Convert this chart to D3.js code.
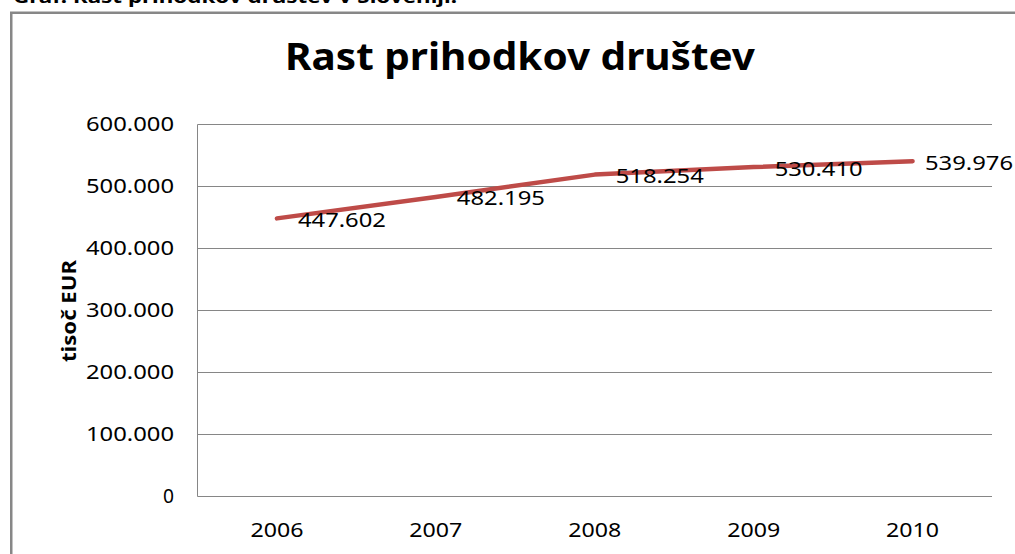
<!DOCTYPE html>
<html>
<head>
<meta charset="utf-8">
<script src="https://cdn.jsdelivr.net/npm/d3@7"></script>
<style>
html,body{margin:0;padding:0;background:#fff;overflow:hidden;}
svg{display:block;}
</style>
</head>
<body>
<svg id="chart" width="1015" height="554"></svg>
<script>
// ---- data ----
const years = ["2006", "2007", "2008", "2009", "2010"];
const revenue = [447602, 482195, 518254, 530410, 539976];
const yTicks = [0, 100000, 200000, 300000, 400000, 500000, 600000];
const chartTitle = "Rast prihodkov društev";
const yAxisTitle = "tisoč EUR";
const captionText = "Graf: Rast prihodkov društev v Sloveniji.";

// ---- layout ----
const W = 1015, H = 554;
const plot = {left: 197.5, right: 992, top: 124, bottom: 495.5};
const svg = d3.select("#chart");
const fmt = d3.formatLocale({decimal: ",", thousands: ".", grouping: [3], currency: ["", "€"]}).format(",");
const gridColor = "#868686";
const fontFam = "'Noto Sans', 'DejaVu Sans', sans-serif";

// caption (mostly cut off at top, as in the reference)
svg.append("text")
  .attr("x", 13).attr("y", 3)
  .attr("font-family", fontFam).attr("font-weight", "bold").attr("font-size", 18)
  .attr("textLength", 444).attr("lengthAdjust", "spacingAndGlyphs")
  .attr("fill", "#000")
  .text(captionText);

// chart frame (extends past the right/bottom edges)
svg.append("rect")
  .attr("x", 11.25).attr("y", 12.75).attr("width", 1100).attr("height", 700)
  .attr("fill", "none").attr("stroke", "#878787").attr("stroke-width", 2.5);

const x = d3.scaleBand().domain(years).range([plot.left, plot.right]).padding(0);
const y = d3.scaleLinear().domain([0, 600000]).range([plot.bottom, plot.top]);

// gridlines
svg.append("g").selectAll("line").data(yTicks).join("line")
  .attr("x1", plot.left).attr("x2", plot.right)
  .attr("y1", d => Math.round(y(d)) + 0.5).attr("y2", d => Math.round(y(d)) + 0.5)
  .attr("stroke", gridColor).attr("stroke-width", 1);

// left axis line
svg.append("line")
  .attr("x1", plot.left).attr("x2", plot.left)
  .attr("y1", Math.round(y(600000)) + 0.5).attr("y2", Math.round(y(0)) + 0.5)
  .attr("stroke", gridColor).attr("stroke-width", 1);

// y tick labels
svg.append("g").selectAll("text").data(yTicks).join("text")
  .attr("x", 174)
  .attr("y", d => y(d) + 7)
  .attr("text-anchor", "end")
  .attr("font-family", fontFam).attr("font-size", 19)
  .attr("fill", "#000")
  .each(function(d){
    const t = fmt(d);
    const el = d3.select(this).text(t);
    if (t.length > 1) el.attr("textLength", 88).attr("lengthAdjust", "spacingAndGlyphs");
    else el.attr("textLength", 11).attr("lengthAdjust", "spacingAndGlyphs");
  });

// x tick labels
svg.append("g").selectAll("text").data(years).join("text")
  .attr("x", d => x(d) + x.bandwidth() / 2)
  .attr("y", 537)
  .attr("text-anchor", "middle")
  .attr("font-family", fontFam).attr("font-size", 20)
  .attr("textLength", 53).attr("lengthAdjust", "spacingAndGlyphs")
  .attr("fill", "#000")
  .text(d => d);

// title
svg.append("text")
  .attr("x", 520).attr("y", 70)
  .attr("text-anchor", "middle")
  .attr("font-family", fontFam).attr("font-weight", "bold").attr("font-size", 37)
  .attr("textLength", 470).attr("lengthAdjust", "spacingAndGlyphs")
  .attr("fill", "#000")
  .text(chartTitle);

// y axis title
svg.append("text")
  .attr("transform", "translate(76,311) rotate(-90)")
  .attr("text-anchor", "middle")
  .attr("font-family", fontFam).attr("font-weight", "bold").attr("font-size", 19.5)
  .attr("textLength", 102).attr("lengthAdjust", "spacingAndGlyphs")
  .attr("fill", "#000")
  .text(yAxisTitle);

// line
const pts = years.map((yr, i) => ({year: yr, value: revenue[i]}));
const line = d3.line().x(d => x(d.year) + x.bandwidth() / 2).y(d => y(d.value));
svg.append("path")
  .datum(pts)
  .attr("d", line)
  .attr("fill", "none")
  .attr("stroke", "#BE4B48")
  .attr("stroke-width", 4.5)
  .attr("stroke-linecap", "round")
  .attr("stroke-linejoin", "round");

// data labels (right of point)
const labelW = 88;
svg.append("g").selectAll("text").data(pts).join("text")
  .attr("x", d => Math.min(x(d.year) + x.bandwidth() / 2 + 21, W - 2 - labelW))
  .attr("y", d => y(d.value) + 8.5)
  .attr("font-family", fontFam).attr("font-size", 20)
  .attr("textLength", labelW).attr("lengthAdjust", "spacingAndGlyphs")
  .attr("fill", "#000")
  .text(d => fmt(d.value));
</script>
</body>
</html>
